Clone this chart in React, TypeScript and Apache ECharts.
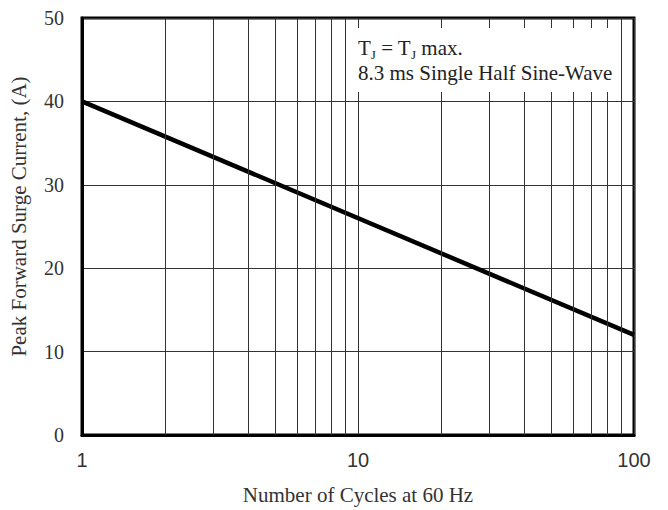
import React, { useEffect, useRef } from "react";
import * as echarts from "echarts";

const cycles = [1, 100];
const surgeCurrent = [40, 12];
const yTicks = [0, 10, 20, 30, 40, 50];
const minorX = [2, 3, 4, 5, 6, 7, 8, 9, 20, 30, 40, 50, 60, 70, 80, 90];
const xTitle = "Number of Cycles at 60 Hz";
const yTitle = "Peak Forward Surge Current, (A)";
const noteLine2 = "8.3 ms Single Half Sine-Wave";

export default function App() {
  const ref = useRef<HTMLDivElement>(null);
  useEffect(() => {
    const chart = echarts.init(ref.current!, undefined, { renderer: "svg" });
    const serif = "'Liberation Serif', 'Times New Roman', serif";
    const sans = "'Liberation Sans', Arial, sans-serif";
    chart.setOption({
      animation: false,
      backgroundColor: "#fff",
      grid: {
        left: 80,
        right: 34,
        top: 18,
        bottom: 73,
        show: true,
        borderColor: "#000",
        borderWidth: 3,
        backgroundColor: "transparent",
      },
      xAxis: {
        type: "log",
        logBase: 10,
        min: 1,
        max: 100,
        name: xTitle,
        nameLocation: "middle",
        nameGap: 49,
        nameTextStyle: { fontFamily: serif, fontSize: 21, color: "#333" },
        axisLine: { show: true, lineStyle: { color: "#000", width: 3 } },
        axisTick: { show: false },
        axisLabel: { fontFamily: sans, fontSize: 20, color: "#333", margin: 15 },
        splitLine: { show: true, lineStyle: { color: "#333", width: 1 } },
      },
      yAxis: {
        type: "value",
        min: 0,
        max: 50,
        interval: 10,
        name: yTitle,
        nameLocation: "middle",
        nameGap: 53,
        nameTextStyle: { fontFamily: serif, fontSize: 21, color: "#333", padding: [0, 0, 0, 20] },
        axisLine: { show: true, lineStyle: { color: "#000", width: 3 } },
        axisTick: { show: false },
        axisLabel: {
          fontFamily: serif,
          fontSize: 20,
          color: "#333",
          margin: 18,
          formatter: (v: number) => (yTicks.includes(v) ? String(v) : ""),
        },
        splitLine: { show: true, lineStyle: { color: "#333", width: 1 } },
      },
      series: [
        {
          type: "line",
          data: [],
          silent: true,
          markLine: {
            silent: true,
            symbol: "none",
            label: { show: false },
            lineStyle: { color: "#333", width: 1, type: "solid" },
            data: minorX.map((v) => ({ xAxis: v })),
          },
          z: 1,
        },
        {
          type: "line",
          data: cycles.map((c, i) => [c, surgeCurrent[i]]),
          showSymbol: false,
          lineStyle: { color: "#000", width: 4.5 },
          z: 3,
        },
      ],
      graphic: [
        {
          type: "rect",
          z: 100,
          shape: { x: 357, y: 28, width: 257, height: 64 },
          style: { fill: "#fff" },
        },
        {
          type: "text",
          z: 101,
          x: 358,
          y: 48,
          style: {
            text: "{m|T}{s|J}{m| = T}{s|J}{m| max.}",
            verticalAlign: "middle",
            rich: {
              m: { fontFamily: serif, fontSize: 21, fill: "#222" },
              s: { fontFamily: serif, fontSize: 13, fill: "#222", padding: [12, 0, 0, 0] },
            },
          },
        },
        {
          type: "text",
          z: 101,
          x: 358,
          y: 73,
          style: {
            text: noteLine2,
            verticalAlign: "middle",
            fontFamily: serif,
            fontSize: 21,
            fill: "#222",
          },
        },
      ],
    });
    return () => chart.dispose();
  }, []);
  return (
    <div
      ref={ref}
      style={{ position: "absolute", left: 0, top: 0, width: 668, height: 510 }}
    />
  );
}
